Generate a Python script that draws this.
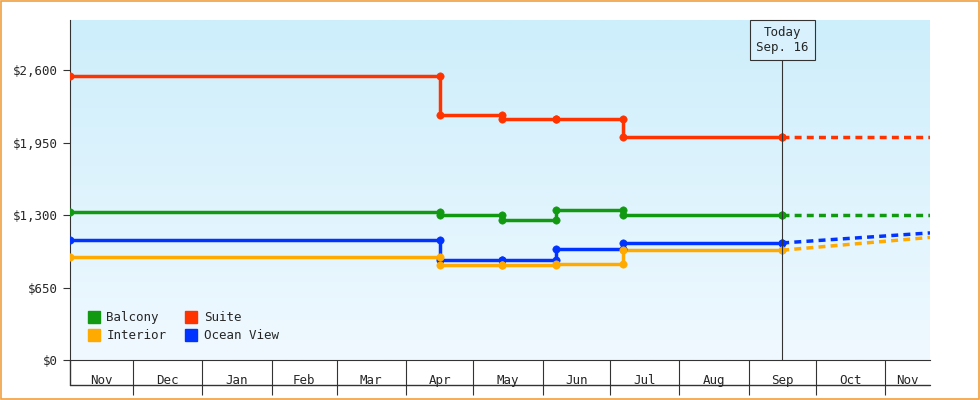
import numpy as np, pandas as pd, matplotlib
matplotlib.use("Agg")
import matplotlib.pyplot as plt, seaborn as sns
import matplotlib.dates as mdates

sns.set_style("white")
plt.rcParams['font.family'] = ['DejaVu Sans Mono']

change_dates = ["2023-11-03", "2024-04-16", "2024-05-14", "2024-06-07", "2024-07-07", "2024-09-16"]
end_date = "2024-11-21"
series = {
    "Suite":      ([2550, 2200, 2160, 2160, 2000, 2000], 2000, "#ff3300"),
    "Balcony":    ([1330, 1300, 1260, 1345, 1300, 1300], 1300, "#119911"),
    "Ocean View": ([1080, 895, 900, 995, 1050, 1050], 1140, "#0033ff"),
    "Interior":   ([920, 850, 855, 860, 985, 985], 1100, "#ffaa00"),
}
months = ["Nov","Dec","Jan","Feb","Mar","Apr","May","Jun","Jul","Aug","Sep","Oct","Nov"]
yticks = [0, 650, 1300, 1950, 2600]

fig = plt.figure(figsize=(9.8, 4), dpi=100)
fig.patches.append(plt.Rectangle((0.001, 0.002), 0.998, 0.996, transform=fig.transFigure,
                                 fill=False, ec="#f0a040", lw=1.2))
ax = fig.add_axes([70/980, 40/400, 860/980, 340/400])
x0, x1 = mdates.datestr2num("2023-11-03"), mdates.datestr2num(end_date)
grad = np.linspace(0, 1, 256).reshape(-1, 1)
from matplotlib.colors import LinearSegmentedColormap
cm = LinearSegmentedColormap.from_list("g", ["#f0f9ff", "#cdeefb"])
ax.imshow(grad, aspect="auto", cmap=cm, origin="lower", extent=[x0, x1, 0, 3050], zorder=0)

d = pd.to_datetime(change_dates)
for name, (vals, fut, col) in series.items():
    df = pd.DataFrame({"date": d, "price": vals})
    sns.lineplot(data=df, x="date", y="price", drawstyle="steps-post", color=col, lw=2.5, ax=ax, zorder=3)
    pts = [(d[0], vals[0])]
    for i in range(1, len(d)):
        pts += [(d[i], vals[i-1]), (d[i], vals[i])]
    pdf = pd.DataFrame(pts, columns=["date", "price"])
    sns.scatterplot(data=pdf, x="date", y="price", color=col, s=28, edgecolor=col, ax=ax, zorder=4)
    fdf = pd.DataFrame({"date": pd.to_datetime([change_dates[-1], end_date]), "price": [vals[-1], fut]})
    sns.lineplot(data=fdf, x="date", y="price", color=col, lw=2.5, ls=(0, (2, 1.5)), ax=ax, zorder=3)

ax.set_xlim(x0, x1); ax.set_ylim(0, 3050)
ax.set_yticks(yticks); ax.set_yticklabels([f"${v:,}" for v in yticks], fontsize=9)
ax.tick_params(axis="y", left=True, length=5, color="#333")
for s in ["top", "right"]: ax.spines[s].set_visible(False)
for s in ["left", "bottom"]: ax.spines[s].set_color("#333")
ax.set_xlabel(""); ax.set_ylabel("")

bounds = pd.date_range("2023-11-01", "2024-12-01", freq="MS")
bn = [mdates.date2num(b) for b in bounds]
ax.set_xticks([b for b in bn[1:] if b < x1])
ax.set_xticklabels([])
ax.tick_params(axis="x", bottom=True, length=25, width=0.8, color="#333", direction="out")
for i, m in enumerate(months):
    c = (max(bn[i], x0) + min(bn[i+1], x1)) / 2
    ax.text(c, -0.04, m, transform=ax.get_xaxis_transform(), ha="center", va="top", fontsize=9)
ax.plot([0, 1], [-25/340, -25/340], transform=ax.transAxes, color="#333", lw=1, clip_on=False)
ax.plot([0, 0], [0, -25/340], transform=ax.transAxes, color="#333", lw=1, clip_on=False)

today = mdates.datestr2num("2024-09-16")
ax.axvline(today, ymax=1, color="#333", lw=0.8, zorder=5)
ax.text(today, 2870, "Today\nSep. 16", ha="center", va="center", fontsize=9, zorder=6,
        bbox=dict(boxstyle="square,pad=0.5", fc="#d8f1fc", ec="#333", lw=0.8))

from matplotlib.lines import Line2D
handles = [Line2D([], [], marker="s", ls="", color=series[n][2], markersize=8) for n in ["Balcony", "Interior", "Suite", "Ocean View"]]
ax.legend(handles, ["Balcony", "Interior", "Suite", "Ocean View"], ncol=2, loc="lower left",
          bbox_to_anchor=(0.0, 0.02), frameon=False, handletextpad=0.0, columnspacing=1.0,
          fontsize=9, labelspacing=0.4)
fig.savefig("out.png", dpi=100)
